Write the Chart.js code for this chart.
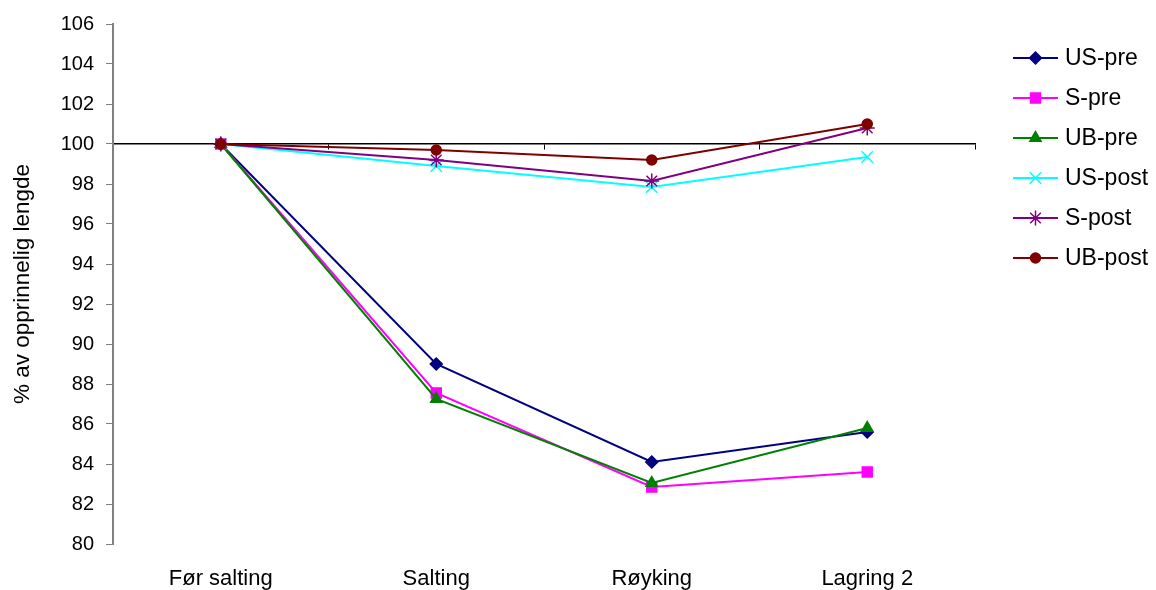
<!DOCTYPE html>
<html>
<head>
<meta charset="utf-8">
<script src="https://cdn.jsdelivr.net/npm/chart.js@4.4.1/dist/chart.umd.min.js"></script>
<style>
  html, body { margin: 0; padding: 0; background: #fff; }
  #wrap { width: 1156px; height: 590px; position: relative; }
</style>
</head>
<body>
<div id="wrap"><canvas id="lengthChart"></canvas></div>
<script>
const categories = ["Før salting", "Salting", "Røyking", "Lagring 2"];
const usPre = [100, 89.0, 84.1, 85.6];
const sPre = [100, 87.55, 82.85, 83.6];
const ubPre = [100, 87.25, 83.05, 85.8];
const usPost = [100, 98.9, 97.85, 99.35];
const sPost = [100, 99.2, 98.15, 100.8];
const ubPost = [100, 99.7, 99.2, 101.0];
const yTitle = "% av opprinnelig lengde";

const FONT = "'Liberation Sans', Arial, sans-serif";

function series(label, data, color, pointStyle, radius, order) {
  return {
    label: label,
    data: data,
    borderColor: color,
    backgroundColor: color,
    pointBackgroundColor: color,
    pointBorderColor: color,
    pointStyle: pointStyle,
    pointRadius: radius,
    pointBorderWidth: 1.5,
    borderWidth: 2,
    tension: 0,
    fill: false,
    order: order,
    xAxisID: "x",
  };
}

const datasets = [
  series("US-pre", usPre, "#000080", "rectRot", 6, 6),
  series("S-pre", sPre, "#ff00ff", "rect", 7, 5),
  series("UB-pre", ubPre, "#008000", "triangle", 6.5, 4),
  series("US-post", usPost, "#00ffff", "crossRot", 8, 3),
  series("S-post", sPost, "#800080", "star", 7.5, 2),
  series("UB-post", ubPost, "#800000", "circle", 5, 1),
];

// legend with line + marker like the original
const sideLegend = {
  id: "sideLegend",
  afterDraw(chart) {
    const ctx = chart.ctx;
    ctx.save();
    chart.data.datasets.forEach(function (ds, i) {
      const y = 58 + i * 40;
      ctx.strokeStyle = ds.borderColor;
      ctx.lineWidth = 2;
      ctx.beginPath();
      ctx.moveTo(1013, y);
      ctx.lineTo(1058, y);
      ctx.stroke();
      ctx.fillStyle = ds.borderColor;
      ctx.strokeStyle = ds.borderColor;
      ctx.lineWidth = 1.5;
      Chart.helpers.drawPoint(ctx, {
        pointStyle: ds.pointStyle,
        radius: ds.pointRadius,
        rotation: 0,
        borderWidth: 1.5,
      }, 1035.5, y);
      ctx.fillStyle = "#000";
      ctx.font = "23px " + FONT;
      ctx.textBaseline = "middle";
      ctx.textAlign = "left";
      ctx.fillText(ds.label, 1065, y + 1);
    });
    ctx.restore();
  },
};

new Chart(document.getElementById("lengthChart").getContext("2d"), {
  type: "line",
  data: { labels: categories, datasets: datasets },
  options: {
    responsive: true,
    maintainAspectRatio: false,
    animation: false,
    layout: { padding: { top: 16, right: 181, left: 0, bottom: 0 } },
    plugins: {
      legend: { display: false },
      tooltip: { enabled: false },
    },
    scales: {
      x: {
        type: "category",
        position: "bottom",
        offset: true,
        afterFit: function (scale) { scale.height = 46; },
        grid: { display: false, drawTicks: false },
        border: { display: false },
        ticks: {
          color: "#000",
          padding: 22,
          maxRotation: 0,
          font: { family: FONT, size: 22 },
        },
      },
      x2: {
        type: "category",
        position: { y: 100 },
        offset: true,
        ticks: { display: false },
        grid: {
          offset: true,
          drawOnChartArea: false,
          drawTicks: true,
          tickLength: 5,
          color: "#000",
        },
        border: { display: true, color: "#000", width: 1.5 },
      },
      y: {
        min: 80,
        max: 106,
        afterFit: function (scale) { scale.width = 113; },
        ticks: {
          stepSize: 2,
          color: "#000",
          padding: 12,
          font: { family: FONT, size: 20 },
        },
        grid: {
          drawOnChartArea: false,
          tickLength: 7,
          color: "#808080",
        },
        border: { color: "#808080", width: 2 },
        title: {
          display: true,
          text: yTitle,
          color: "#000",
          padding: { top: 9, bottom: 0 },
          font: { family: FONT, size: 22.5 },
        },
      },
    },
  },
  plugins: [sideLegend],
});
</script>
</body>
</html>
